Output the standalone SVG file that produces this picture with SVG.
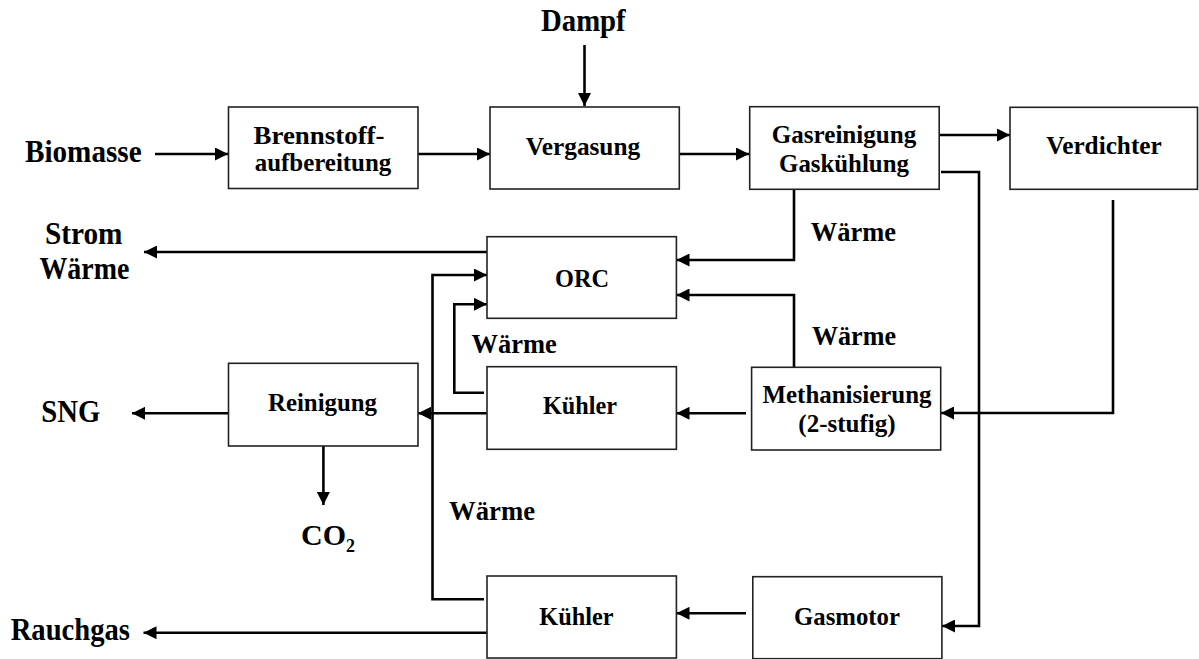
<svg xmlns="http://www.w3.org/2000/svg" width="1199" height="659" viewBox="0 0 1199 659">
<style>
.box{fill:#fff;stroke:#222;stroke-width:1.6}
.t{font-family:"Liberation Serif","Times New Roman",serif;font-weight:bold;fill:#000}
.bl{font-size:26px;text-anchor:middle}
.ol{font-size:31px}
.wl{font-size:28px}
.c{fill:none;stroke:#000;stroke-width:2.6}
</style>
<defs>
<marker id="ah" markerUnits="userSpaceOnUse" markerWidth="14" markerHeight="13" refX="13" refY="6.5" orient="auto">
<path d="M0,0 L13,6.5 L0,13 z" fill="#000"/>
</marker>
</defs>
<rect width="1199" height="659" fill="#fff"/>
<g id="connectors">
<path class="c" d="M584.5,45 V106" marker-end="url(#ah)"/>
<path class="c" d="M155,154 H228" marker-end="url(#ah)"/>
<path class="c" d="M418,154 H490" marker-end="url(#ah)"/>
<path class="c" d="M679,154 H749" marker-end="url(#ah)"/>
<path class="c" d="M939,135 H1010" marker-end="url(#ah)"/>
<path class="c" d="M794,189 V260 H676.5" marker-end="url(#ah)"/>
<path class="c" d="M941,172 H979 V626 H942" marker-end="url(#ah)"/>
<path class="c" d="M1113,200 V413 H941" marker-end="url(#ah)"/>
<path class="c" d="M487,252 H144" marker-end="url(#ah)"/>
<path class="c" d="M794,367 V295 H676.5" marker-end="url(#ah)"/>
<path class="c" d="M746,413.3 H676.5" marker-end="url(#ah)"/>
<path class="c" d="M487,413.3 H418" marker-end="url(#ah)"/>
<path class="c" d="M228.5,413.3 H132" marker-end="url(#ah)"/>
<path class="c" d="M323.4,446 V505" marker-end="url(#ah)"/>
<path class="c" d="M484,392.7 H454.3 V304.3 H487" marker-end="url(#ah)"/>
<path class="c" d="M484,599.3 H432.5 V275 H487" marker-end="url(#ah)"/>
<path class="c" d="M746,613.3 H676.5" marker-end="url(#ah)"/>
<path class="c" d="M487,632.7 H143.5" marker-end="url(#ah)"/>
</g>
<g id="brennstoff">
<rect class="box" x="228.5" y="107" width="189.5" height="81.5"/>
<text class="t bl" x="319" y="143.5" textLength="131" lengthAdjust="spacingAndGlyphs">Brennstoff-</text>
<text class="t bl" x="323" y="171" textLength="136.5" lengthAdjust="spacingAndGlyphs">aufbereitung</text>
</g>
<g id="vergasung">
<rect class="box" x="490" y="107" width="189.3" height="82"/>
<text class="t bl" x="583" y="155" textLength="114.3" lengthAdjust="spacingAndGlyphs">Vergasung</text>
</g>
<g id="gasreinigung">
<rect class="box" x="749.7" y="106.7" width="189.5" height="82.6"/>
<text class="t bl" x="844" y="143" textLength="144.4" lengthAdjust="spacingAndGlyphs">Gasreinigung</text>
<text class="t bl" x="844" y="172" textLength="129.8" lengthAdjust="spacingAndGlyphs">Gaskühlung</text>
</g>
<g id="verdichter">
<rect class="box" x="1010" y="107.3" width="187.5" height="82"/>
<text class="t bl" x="1104" y="154" textLength="115.5" lengthAdjust="spacingAndGlyphs">Verdichter</text>
</g>
<g id="orc">
<rect class="box" x="487" y="236.7" width="189.4" height="81.6"/>
<text class="t bl" x="582" y="286.7" textLength="54" lengthAdjust="spacingAndGlyphs">ORC</text>
</g>
<g id="reinigung">
<rect class="box" x="228.5" y="363.3" width="189.5" height="82.7"/>
<text class="t bl" x="322.5" y="410.7" textLength="109" lengthAdjust="spacingAndGlyphs">Reinigung</text>
</g>
<g id="kuehler1">
<rect class="box" x="487" y="366.7" width="189.4" height="82.6"/>
<text class="t bl" x="580" y="414.3" textLength="74" lengthAdjust="spacingAndGlyphs">Kühler</text>
</g>
<g id="methanisierung">
<rect class="box" x="751.6" y="367.3" width="189.1" height="82.7"/>
<text class="t bl" x="847" y="403" textLength="169" lengthAdjust="spacingAndGlyphs">Methanisierung</text>
<text class="t bl" x="847" y="432" textLength="97.4" lengthAdjust="spacingAndGlyphs">(2-stufig)</text>
</g>
<g id="kuehler2">
<rect class="box" x="487" y="576" width="189.4" height="82"/>
<text class="t bl" x="576.5" y="625" textLength="74.3" lengthAdjust="spacingAndGlyphs">Kühler</text>
</g>
<g id="gasmotor">
<rect class="box" x="752.8" y="576.7" width="189.1" height="82"/>
<text class="t bl" x="847" y="625" textLength="105.8" lengthAdjust="spacingAndGlyphs">Gasmotor</text>
</g>
<g id="labels">
<text class="t ol" x="541" y="31" textLength="84.7" lengthAdjust="spacingAndGlyphs">Dampf</text>
<text class="t ol" x="25" y="162" textLength="116.6" lengthAdjust="spacingAndGlyphs">Biomasse</text>
<text class="t ol" x="45" y="244" textLength="77.5" lengthAdjust="spacingAndGlyphs">Strom</text>
<text class="t ol" x="39.4" y="279" textLength="90" lengthAdjust="spacingAndGlyphs">Wärme</text>
<text class="t ol" x="41.3" y="422" textLength="59" lengthAdjust="spacingAndGlyphs">SNG</text>
<text class="t" style="font-size:30px" x="301" y="545">CO<tspan style="font-size:18px" dy="6.7">2</tspan></text>
<text class="t ol" x="10.7" y="640" textLength="119.3" lengthAdjust="spacingAndGlyphs">Rauchgas</text>
<text class="t wl" x="810.8" y="241" textLength="85.2" lengthAdjust="spacingAndGlyphs">Wärme</text>
<text class="t wl" x="812" y="345" textLength="84" lengthAdjust="spacingAndGlyphs">Wärme</text>
<text class="t wl" x="471.5" y="352.7" textLength="85.3" lengthAdjust="spacingAndGlyphs">Wärme</text>
<text class="t wl" x="449" y="520" textLength="86" lengthAdjust="spacingAndGlyphs">Wärme</text>
</g>
</svg>
